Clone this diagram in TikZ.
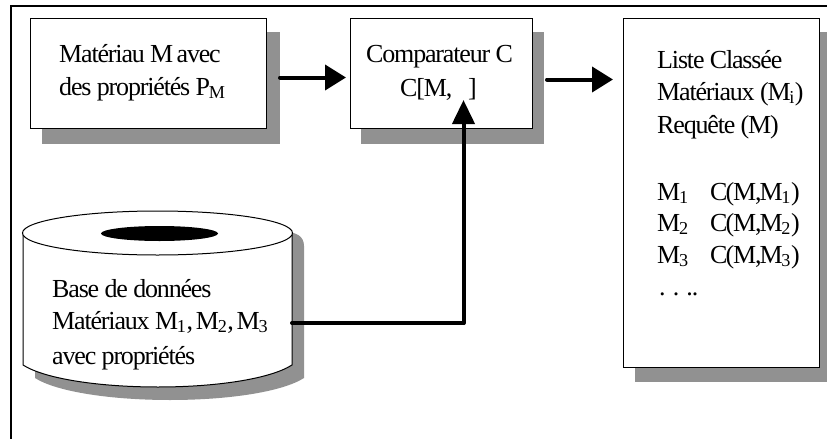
\documentclass[tikz,border=0pt]{standalone}
\usepackage{fontspec}
\setmainfont{Liberation Serif}[LetterSpace=-4.5]
\usetikzlibrary{arrows.meta,shapes.geometric}
\tikzset{
  boxn/.style={draw=black,line width=1pt,fill=white},
  shadowfill/.style={fill=black!43,draw=none},
  txt/.style={anchor=base west,inner sep=0pt,font=\fontsize{26}{26}\selectfont},
  flow/.style={line width=4pt,line cap=round,-{Triangle[length=21pt,width=25pt]}},
  flowup/.style={line width=4pt,line cap=round,-{Triangle[length=24pt,width=22pt]}},
}
\newcommand{\sbs}[1]{\kern-1.2pt\textsubscript{#1}}
\begin{document}
\begin{tikzpicture}[x=1pt,y=-1pt]
\useasboundingbox (0,0) rectangle (827,439);
\fill[white] (0,0) rectangle (827,439);
% frame
\draw[line width=2pt] (827,5.5) -- (11,5.5);
\draw[line width=1.3pt] (11,5) -- (11,439);
% shadows
\fill[shadowfill] (42,32) rectangle (280,144);
\fill[shadowfill] (361,32) rectangle (543.5,144);
\fill[shadowfill] (635,32) rectangle (827,382);
\fill[shadowfill] (35,246) -- (35,378) .. controls (57,392) and (112,400) .. (170,400) .. controls (228,400) and (282,392) .. (304,378) -- (304,246) .. controls (304,236) and (296,232) .. (285,232) -- cycle;
% boxes
\node[boxn,minimum width=236pt,minimum height=110pt,anchor=north west,inner sep=0pt] (mat) at (30,18) {};
\node[boxn,minimum width=182pt,minimum height=110pt,anchor=north west,inner sep=0pt] (comp) at (349.5,18) {};
\node[boxn,minimum width=196pt,minimum height=349pt,anchor=north west,inner sep=0pt] (liste) at (623,18) {};
% cylinder
\draw[boxn] (23,233) -- (23,365) .. controls (45,379) and (100,387) .. (158,387) .. controls (216,387) and (270,379) .. (292,365) -- (292,233);
\node[boxn,ellipse,minimum width=270pt,minimum height=44pt,inner sep=0pt] (db) at (157.5,233) {};
\node[ellipse,fill=black,draw=none,minimum width=117pt,minimum height=15pt,inner sep=0pt] (hole) at (159.5,233.5) {};
\coordinate (dbout) at (292,323);
\coordinate (join) at (463.5,323);
% text
\node[txt] (t1) at (59,62) {Matériau M\kern-2pt{} avec};
\node[txt] (t2) at (59,95) {des propriétés P\sbs{M}};
\node[txt] (t3) at (366,62) {Comparateur C};
\node[txt] (t4) at (400,96) {C[M,};
\node[txt] (t5) at (468,96) {]};
\node[txt] (t6) at (52,297) {Base de données};
\node[txt] (t7) at (52,329) {Matériaux M\sbs{1},\kern-2.5pt{} M\sbs{2},\kern-2.5pt{} M\sbs{3}};
\node[txt] (t8) at (52,364) {avec propriétés};
\node[txt] (t9) at (657,68) {Liste Classée};
\node[txt] (t10) at (657,100) {Matériaux (M\sbs{i})};
\node[txt] (t11) at (657,133) {Requête (M)};
\node[txt] (t12) at (657,200) {M\sbs{1}};
\node[txt] (t13) at (710,200) {C\kern-2pt(M,\kern-2pt{}M\sbs{1})};
\node[txt] (t14) at (657,231) {M\sbs{2}};
\node[txt] (t15) at (710,231) {C\kern-2pt(M,\kern-2pt{}M\sbs{2})};
\node[txt] (t16) at (657,263) {M\sbs{3}};
\node[txt] (t17) at (710,263) {C\kern-2pt(M,\kern-2pt{}M\sbs{3})};
\node[txt] (t18) at (659,295) {. . ..};
% connectors
\draw[flow] (280,77.5) -- (346,77.5);
\draw[flow] (547,79.5) -- (613,79.5);
\draw[line width=4pt,line cap=round] (dbout) -- (join);
\draw[flowup] (join) -- (463.5,100);
\end{tikzpicture}
\end{document}
